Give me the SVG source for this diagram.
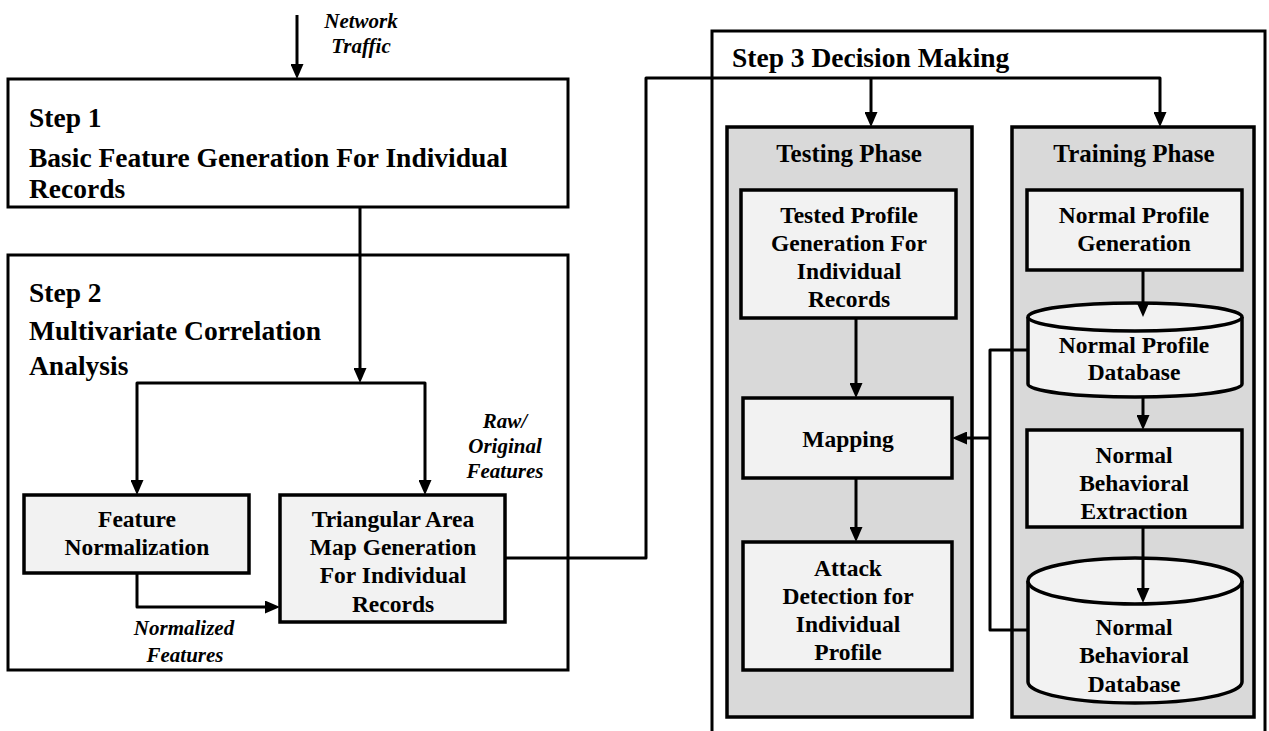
<svg xmlns="http://www.w3.org/2000/svg" width="1269" height="731" viewBox="0 0 1269 731">
<style>
.box{fill:#ffffff;stroke:#000;stroke-width:3}
.phase{fill:#d9d9d9;stroke:#000;stroke-width:3.5}
.node{fill:#f2f2f2;stroke:#000;stroke-width:3.5}
text{font-family:'Liberation Serif','DejaVu Serif',serif;font-weight:bold;fill:#000}
.h{font-size:27.5px}
.ph{font-size:25px;text-anchor:middle}
.t{font-size:23.5px;text-anchor:middle}
.lbl{font-style:italic;font-size:21px;text-anchor:middle}
.conn{fill:none;stroke:#000;stroke-width:3;stroke-linejoin:round}
</style>
<defs>
<marker id="ah" viewBox="0 0 15 13" refX="10" refY="6.5" markerWidth="15" markerHeight="13" markerUnits="userSpaceOnUse" orient="auto">
<path d="M0,0 L15,6.5 L0,13 z" fill="#000"/>
</marker>
</defs>

<g id="step1">
<rect class="box" x="8" y="79" width="560" height="128"/>
<text class="h" x="29" y="127" font-family="Liberation Serif, DejaVu Serif, serif">Step 1</text>
<text class="h" x="29" y="167" font-family="Liberation Serif, DejaVu Serif, serif">Basic Feature Generation For Individual</text>
<text class="h" x="29" y="198" font-family="Liberation Serif, DejaVu Serif, serif">Records</text>
</g>

<g id="step2">
<rect class="box" x="8" y="255" width="560" height="415"/>
<text class="h" x="29" y="302">Step 2</text>
<text class="h" x="29" y="340">Multivariate Correlation</text>
<text class="h" x="29" y="375">Analysis</text>
</g>

<g id="feature-normalization">
<rect class="node" x="24" y="495" width="225" height="78"/>
<text class="t" x="137" y="527">Feature</text>
<text class="t" x="137" y="555">Normalization</text>
</g>

<g id="triangular-area-map">
<rect class="node" x="280" y="495" width="225" height="127"/>
<text class="t" x="393" y="527">Triangular Area</text>
<text class="t" x="393" y="555">Map Generation</text>
<text class="t" x="393" y="583">For Individual</text>
<text class="t" x="393" y="612">Records</text>
</g>

<g id="step3">
<rect class="box" x="712" y="31" width="553" height="730"/>
<text class="h" x="732" y="67">Step 3 Decision Making</text>
</g>

<g id="testing-phase">
<rect class="phase" x="727" y="127" width="245" height="590"/>
<text class="ph" x="849" y="162">Testing Phase</text>
</g>

<g id="training-phase">
<rect class="phase" x="1012" y="127" width="242" height="590"/>
<text class="ph" x="1134" y="162">Training Phase</text>
</g>

<g id="tested-profile">
<rect class="node" x="741" y="190" width="215" height="128"/>
<text class="t" x="849" y="223">Tested Profile</text>
<text class="t" x="849" y="251">Generation For</text>
<text class="t" x="849" y="279">Individual</text>
<text class="t" x="849" y="307">Records</text>
</g>

<g id="mapping">
<rect class="node" x="743" y="398" width="209" height="80"/>
<text class="t" x="848" y="447">Mapping</text>
</g>

<g id="attack-detection">
<rect class="node" x="743" y="542" width="209" height="128"/>
<text class="t" x="848" y="576">Attack</text>
<text class="t" x="848" y="604">Detection for</text>
<text class="t" x="848" y="632">Individual</text>
<text class="t" x="848" y="660">Profile</text>
</g>

<g id="normal-profile-generation">
<rect class="node" x="1027" y="190" width="215" height="80"/>
<text class="t" x="1134" y="223">Normal Profile</text>
<text class="t" x="1134" y="251">Generation</text>
</g>

<g id="normal-profile-database">
<path class="node" d="M1028,317 V384 A107,13 0 0 0 1242,384 V317"/>
<ellipse class="node" cx="1135" cy="317" rx="107" ry="14"/>
<text class="t" x="1134" y="353">Normal Profile</text>
<text class="t" x="1134" y="380">Database</text>
</g>

<g id="normal-behavioral-extraction">
<rect class="node" x="1027" y="430" width="215" height="97"/>
<text class="t" x="1134" y="463">Normal</text>
<text class="t" x="1134" y="491">Behavioral</text>
<text class="t" x="1134" y="519">Extraction</text>
</g>

<g id="normal-behavioral-database">
<path class="node" d="M1028,581 V682 A107,21 0 0 0 1242,682 V581"/>
<ellipse class="node" cx="1135" cy="581" rx="107" ry="23"/>
<text class="t" x="1134" y="635">Normal</text>
<text class="t" x="1134" y="663">Behavioral</text>
<text class="t" x="1134" y="692">Database</text>
</g>

<g id="connectors">
<path class="conn" d="M297,15 V74" marker-end="url(#ah)"/>
<path class="conn" d="M360,207 V378" marker-end="url(#ah)"/>
<path class="conn" d="M360,383 H137 V490" marker-end="url(#ah)"/>
<path class="conn" d="M360,383 H425 V490" marker-end="url(#ah)"/>
<path class="conn" d="M137,573 V607 H275" marker-end="url(#ah)"/>
<path class="conn" d="M505,558 H646 V78 H1160 V122" marker-end="url(#ah)"/>
<path class="conn" d="M871,78 V122" marker-end="url(#ah)"/>
<path class="conn" d="M856,318 V393" marker-end="url(#ah)"/>
<path class="conn" d="M856,478 V537" marker-end="url(#ah)"/>
<path class="conn" d="M1143,270 V312" marker-end="url(#ah)"/>
<path class="conn" d="M1143,397 V425" marker-end="url(#ah)"/>
<path class="conn" d="M1143,527 V598" marker-end="url(#ah)"/>
<path class="conn" d="M1028,350 H990 V630 H1028"/>
<path class="conn" d="M990,438 H957" marker-end="url(#ah)"/>
</g>

<g id="labels">
<text class="lbl" x="361" y="28">Network</text>
<text class="lbl" x="361" y="53">Traffic</text>
<text class="lbl" x="505" y="428">Raw/</text>
<text class="lbl" x="505" y="453">Original</text>
<text class="lbl" x="505" y="478">Features</text>
<text class="lbl" x="184" y="635">Normalized</text>
<text class="lbl" x="185" y="662">Features</text>
</g>
</svg>
